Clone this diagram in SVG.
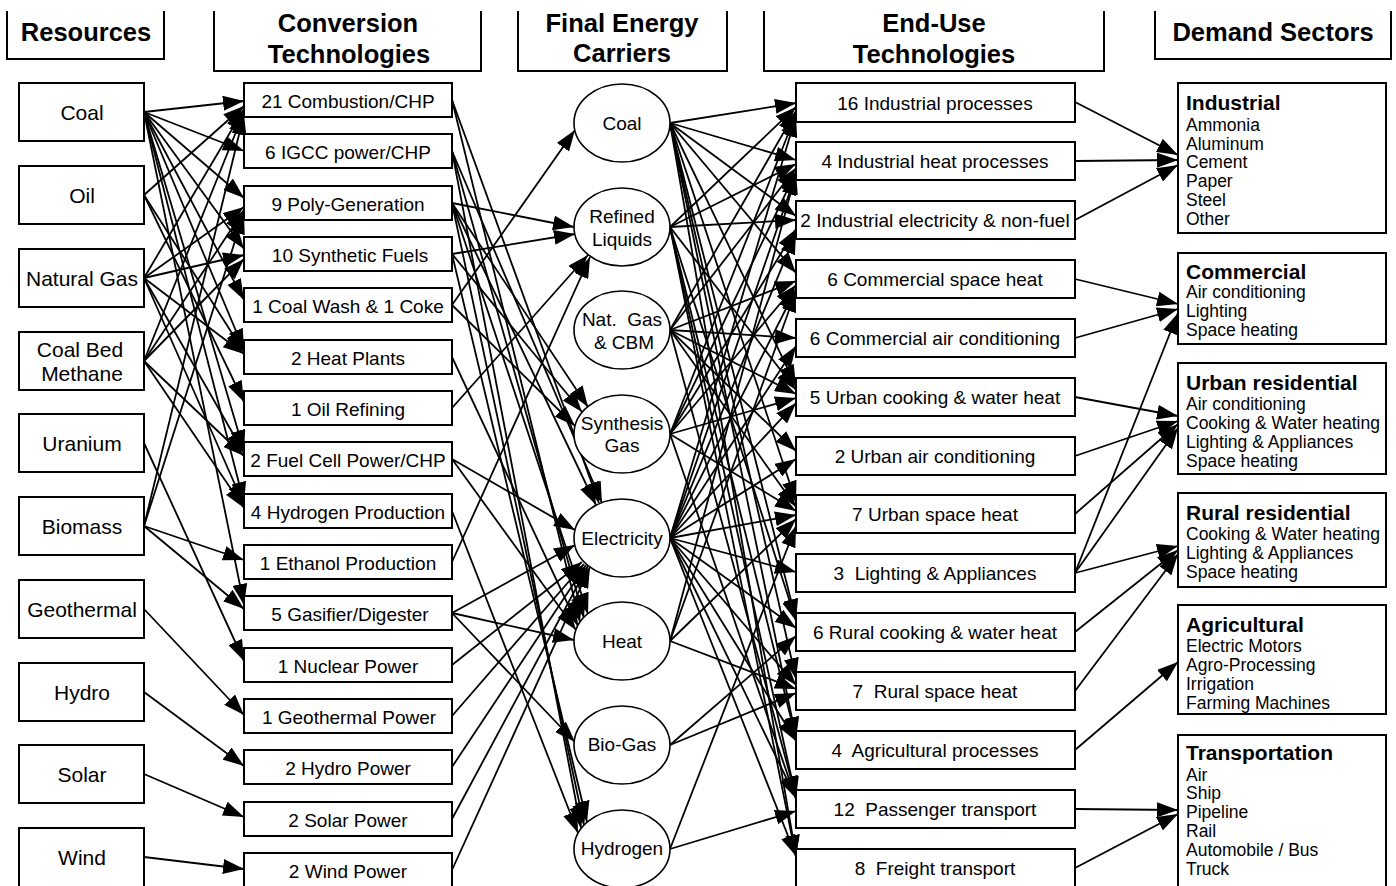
<svg xmlns="http://www.w3.org/2000/svg" width="1396" height="886" viewBox="0 0 1396 886">
<defs>
<marker id="ah" markerUnits="userSpaceOnUse" markerWidth="21" markerHeight="15" refX="21" refY="7.5" orient="auto">
<path d="M0,0 L21,7.5 L0,15 z" fill="#000"/>
</marker>
<style>
text{font-family:"Liberation Sans",Arial,sans-serif;fill:#000;white-space:pre}
.hdr{font-size:25.5px;font-weight:bold;text-anchor:middle}
.hb{fill:none;stroke:#000;stroke-width:2}
.box{fill:#fff;stroke:#000;stroke-width:2}
.ell{fill:#fff;stroke:#000;stroke-width:1.6}
.res{font-size:21px;text-anchor:middle}
.cv{font-size:19px;text-anchor:middle}
.car{font-size:19px;text-anchor:middle}
.eu{font-size:19px;text-anchor:middle}
.dt{font-size:21px;font-weight:bold}
.di{font-size:17.5px}
.c line{stroke:#000;stroke-width:1.8;marker-end:url(#ah)}
</style>
</defs>
<rect width="1396" height="886" fill="#fff"/>

<g id="headers">
<path class="hb" d="M7,11 V59 H164 V11"/>
<text class="hdr" x="86" y="41">Resources</text>
<path class="hb" d="M214,11 V71 H481 V11"/>
<text class="hdr" x="348" y="32">Conversion</text>
<text class="hdr" x="349" y="63">Technologies</text>
<path class="hb" d="M518,11 V71 H727 V11"/>
<text class="hdr" x="622" y="32">Final Energy</text>
<text class="hdr" x="622" y="62">Carriers</text>
<path class="hb" d="M764,11 V71 H1104 V11"/>
<text class="hdr" x="934" y="32">End-Use</text>
<text class="hdr" x="934" y="63">Technologies</text>
<path class="hb" d="M1155,11 V59 H1391 V11"/>
<text class="hdr" x="1273" y="41">Demand Sectors</text>
</g>

<g id="connectors" class="c">
<line x1="144" y1="112" x2="244" y2="101"/>
<line x1="144" y1="112" x2="244" y2="151"/>
<line x1="144" y1="112" x2="244" y2="198"/>
<line x1="144" y1="112" x2="244" y2="249"/>
<line x1="144" y1="112" x2="244" y2="300"/>
<line x1="144" y1="112" x2="244" y2="350"/>
<line x1="144" y1="112" x2="244" y2="451"/>
<line x1="144" y1="112" x2="244" y2="503"/>
<line x1="144" y1="112" x2="244" y2="605"/>
<line x1="144" y1="195" x2="244" y2="106"/>
<line x1="144" y1="195" x2="244" y2="352"/>
<line x1="144" y1="195" x2="244" y2="402"/>
<line x1="144" y1="278" x2="244" y2="109"/>
<line x1="144" y1="278" x2="244" y2="207"/>
<line x1="144" y1="278" x2="244" y2="255"/>
<line x1="144" y1="278" x2="244" y2="354"/>
<line x1="144" y1="278" x2="244" y2="453"/>
<line x1="144" y1="278" x2="244" y2="505"/>
<line x1="144" y1="361" x2="244" y2="112"/>
<line x1="144" y1="361" x2="244" y2="210"/>
<line x1="144" y1="361" x2="244" y2="259"/>
<line x1="144" y1="361" x2="244" y2="456"/>
<line x1="144" y1="361" x2="244" y2="508"/>
<line x1="144" y1="443" x2="244" y2="661"/>
<line x1="144" y1="526" x2="244" y2="114"/>
<line x1="144" y1="526" x2="244" y2="213"/>
<line x1="144" y1="526" x2="244" y2="560"/>
<line x1="144" y1="526" x2="244" y2="609"/>
<line x1="144" y1="609" x2="244" y2="715"/>
<line x1="144" y1="692" x2="244" y2="766"/>
<line x1="144" y1="774" x2="244" y2="817"/>
<line x1="144" y1="857" x2="244" y2="869"/>
<line x1="452" y1="100" x2="599" y2="503"/>
<line x1="452" y1="100" x2="580" y2="622"/>
<line x1="452" y1="151" x2="602" y2="503"/>
<line x1="452" y1="151" x2="584" y2="618"/>
<line x1="452" y1="151" x2="581" y2="828"/>
<line x1="452" y1="203" x2="574" y2="227"/>
<line x1="452" y1="203" x2="588" y2="407"/>
<line x1="452" y1="203" x2="596" y2="505"/>
<line x1="452" y1="203" x2="588" y2="614"/>
<line x1="452" y1="203" x2="584" y2="825"/>
<line x1="452" y1="254" x2="575" y2="234"/>
<line x1="452" y1="254" x2="582" y2="412"/>
<line x1="452" y1="254" x2="587" y2="822"/>
<line x1="452" y1="305" x2="575" y2="130"/>
<line x1="452" y1="305" x2="575" y2="426"/>
<line x1="452" y1="357" x2="578" y2="626"/>
<line x1="452" y1="408" x2="588" y2="255"/>
<line x1="452" y1="459" x2="575" y2="530"/>
<line x1="452" y1="459" x2="576" y2="630"/>
<line x1="452" y1="511" x2="578" y2="833"/>
<line x1="452" y1="562" x2="590" y2="257"/>
<line x1="452" y1="613" x2="575" y2="545"/>
<line x1="452" y1="613" x2="574" y2="640"/>
<line x1="452" y1="613" x2="575" y2="742"/>
<line x1="452" y1="665" x2="582" y2="562"/>
<line x1="452" y1="716" x2="584" y2="564"/>
<line x1="452" y1="767" x2="586" y2="565"/>
<line x1="452" y1="819" x2="588" y2="566"/>
<line x1="452" y1="870" x2="590" y2="567"/>
<line x1="670" y1="123" x2="796" y2="103"/>
<line x1="670" y1="123" x2="796" y2="160"/>
<line x1="670" y1="123" x2="796" y2="216"/>
<line x1="670" y1="123" x2="796" y2="273"/>
<line x1="670" y1="123" x2="796" y2="386"/>
<line x1="670" y1="123" x2="796" y2="502"/>
<line x1="670" y1="123" x2="796" y2="620"/>
<line x1="670" y1="123" x2="796" y2="679"/>
<line x1="670" y1="123" x2="796" y2="738"/>
<line x1="670" y1="123" x2="796" y2="856"/>
<line x1="670" y1="227" x2="796" y2="107"/>
<line x1="670" y1="227" x2="796" y2="164"/>
<line x1="670" y1="227" x2="796" y2="220"/>
<line x1="670" y1="227" x2="796" y2="390"/>
<line x1="670" y1="227" x2="796" y2="621"/>
<line x1="670" y1="227" x2="796" y2="739"/>
<line x1="670" y1="227" x2="796" y2="798"/>
<line x1="670" y1="227" x2="796" y2="857"/>
<line x1="670" y1="330" x2="796" y2="111"/>
<line x1="670" y1="330" x2="796" y2="168"/>
<line x1="670" y1="330" x2="796" y2="281"/>
<line x1="670" y1="330" x2="796" y2="338"/>
<line x1="670" y1="330" x2="796" y2="394"/>
<line x1="670" y1="330" x2="796" y2="451"/>
<line x1="670" y1="330" x2="796" y2="507"/>
<line x1="670" y1="330" x2="796" y2="797"/>
<line x1="670" y1="434" x2="796" y2="114"/>
<line x1="670" y1="434" x2="796" y2="172"/>
<line x1="670" y1="434" x2="796" y2="229"/>
<line x1="670" y1="434" x2="796" y2="285"/>
<line x1="670" y1="434" x2="796" y2="398"/>
<line x1="670" y1="434" x2="796" y2="511"/>
<line x1="670" y1="434" x2="796" y2="799"/>
<line x1="670" y1="538" x2="796" y2="116"/>
<line x1="670" y1="538" x2="796" y2="174"/>
<line x1="670" y1="538" x2="796" y2="233"/>
<line x1="670" y1="538" x2="796" y2="289"/>
<line x1="670" y1="538" x2="796" y2="346"/>
<line x1="670" y1="538" x2="796" y2="403"/>
<line x1="670" y1="538" x2="796" y2="459"/>
<line x1="670" y1="538" x2="796" y2="515"/>
<line x1="670" y1="538" x2="796" y2="572"/>
<line x1="670" y1="538" x2="796" y2="628"/>
<line x1="670" y1="538" x2="796" y2="685"/>
<line x1="670" y1="538" x2="796" y2="741"/>
<line x1="670" y1="538" x2="796" y2="798"/>
<line x1="670" y1="538" x2="796" y2="856"/>
<line x1="670" y1="641" x2="796" y2="173"/>
<line x1="670" y1="641" x2="796" y2="291"/>
<line x1="670" y1="641" x2="796" y2="519"/>
<line x1="670" y1="641" x2="796" y2="689"/>
<line x1="670" y1="745" x2="796" y2="636"/>
<line x1="670" y1="745" x2="796" y2="693"/>
<line x1="670" y1="849" x2="796" y2="526"/>
<line x1="670" y1="849" x2="796" y2="811"/>
<line x1="1075" y1="102" x2="1178" y2="155"/>
<line x1="1075" y1="161" x2="1178" y2="160"/>
<line x1="1075" y1="220" x2="1178" y2="165"/>
<line x1="1075" y1="279" x2="1178" y2="304"/>
<line x1="1075" y1="338" x2="1178" y2="309"/>
<line x1="1075" y1="573" x2="1178" y2="313"/>
<line x1="1075" y1="397" x2="1178" y2="416"/>
<line x1="1075" y1="456" x2="1178" y2="421"/>
<line x1="1075" y1="514" x2="1178" y2="424"/>
<line x1="1075" y1="573" x2="1178" y2="428"/>
<line x1="1075" y1="573" x2="1178" y2="546"/>
<line x1="1075" y1="632" x2="1178" y2="550"/>
<line x1="1075" y1="691" x2="1178" y2="554"/>
<line x1="1075" y1="750" x2="1178" y2="662"/>
<line x1="1075" y1="809" x2="1178" y2="810"/>
<line x1="1075" y1="868" x2="1178" y2="814"/>
</g>

<g id="res-coal"><rect class="box" x="19" y="83" width="125" height="58"/><text class="res" x="82" y="120">Coal</text></g>
<g id="res-oil"><rect class="box" x="19" y="166" width="125" height="58"/><text class="res" x="82" y="203">Oil</text></g>
<g id="res-natgas"><rect class="box" x="19" y="249" width="125" height="58"/><text class="res" x="82" y="286">Natural Gas</text></g>
<g id="res-cbm"><rect class="box" x="19" y="332" width="125" height="58"/><text class="res" x="80" y="357">Coal Bed</text><text class="res" x="82" y="381">Methane</text></g>
<g id="res-uranium"><rect class="box" x="19" y="414" width="125" height="58"/><text class="res" x="82" y="451">Uranium</text></g>
<g id="res-biomass"><rect class="box" x="19" y="497" width="125" height="58"/><text class="res" x="82" y="534">Biomass</text></g>
<g id="res-geothermal"><rect class="box" x="19" y="580" width="125" height="58"/><text class="res" x="82" y="617">Geothermal</text></g>
<g id="res-hydro"><rect class="box" x="19" y="663" width="125" height="58"/><text class="res" x="82" y="700">Hydro</text></g>
<g id="res-solar"><rect class="box" x="19" y="745" width="125" height="58"/><text class="res" x="82" y="782">Solar</text></g>
<g id="res-wind"><rect class="box" x="19" y="828" width="125" height="64"/><text class="res" x="82" y="865">Wind</text></g>

<g id="cv-combustion"><rect class="box" x="244" y="83" width="208" height="34"/><text class="cv" x="348" y="108">21 Combustion/CHP</text></g>
<g id="cv-igcc"><rect class="box" x="244" y="134" width="208" height="34"/><text class="cv" x="348" y="159">6 IGCC power/CHP</text></g>
<g id="cv-polygen"><rect class="box" x="244" y="186" width="208" height="34"/><text class="cv" x="348" y="211">9 Poly-Generation</text></g>
<g id="cv-synfuels"><rect class="box" x="244" y="237" width="208" height="34"/><text class="cv" x="350" y="262">10 Synthetic Fuels</text></g>
<g id="cv-coalwash"><rect class="box" x="244" y="288" width="208" height="34"/><text class="cv" x="348" y="313">1 Coal Wash &amp; 1 Coke</text></g>
<g id="cv-heatplants"><rect class="box" x="244" y="340" width="208" height="34"/><text class="cv" x="348" y="365">2 Heat Plants</text></g>
<g id="cv-oilref"><rect class="box" x="244" y="391" width="208" height="34"/><text class="cv" x="348" y="416">1 Oil Refining</text></g>
<g id="cv-fuelcell"><rect class="box" x="244" y="442" width="208" height="34"/><text class="cv" x="348" y="467">2 Fuel Cell Power/CHP</text></g>
<g id="cv-h2prod"><rect class="box" x="244" y="494" width="208" height="34"/><text class="cv" x="348" y="519">4 Hydrogen Production</text></g>
<g id="cv-ethanol"><rect class="box" x="244" y="545" width="208" height="34"/><text class="cv" x="348" y="570">1 Ethanol Production</text></g>
<g id="cv-gasifier"><rect class="box" x="244" y="596" width="208" height="34"/><text class="cv" x="350" y="621">5 Gasifier/Digester</text></g>
<g id="cv-nuclear"><rect class="box" x="244" y="648" width="208" height="34"/><text class="cv" x="348" y="673">1 Nuclear Power</text></g>
<g id="cv-geothermal"><rect class="box" x="244" y="699" width="208" height="34"/><text class="cv" x="349" y="724">1 Geothermal Power</text></g>
<g id="cv-hydro"><rect class="box" x="244" y="750" width="208" height="34"/><text class="cv" x="348" y="775">2 Hydro Power</text></g>
<g id="cv-solar"><rect class="box" x="244" y="802" width="208" height="34"/><text class="cv" x="348" y="827">2 Solar Power</text></g>
<g id="cv-wind"><rect class="box" x="244" y="853" width="208" height="40"/><text class="cv" x="348" y="878">2 Wind Power</text></g>

<g id="car-coal"><ellipse class="ell" cx="622" cy="123" rx="48" ry="39"/><text class="car" x="622" y="130">Coal</text></g>
<g id="car-refined"><ellipse class="ell" cx="622" cy="227" rx="48" ry="39"/><text class="car" x="622" y="223">Refined</text><text class="car" x="622" y="246">Liquids</text></g>
<g id="car-natgas"><ellipse class="ell" cx="622" cy="330" rx="48" ry="39"/><text class="car" x="622" y="326">Nat.  Gas</text><text class="car" x="624" y="349">&amp; CBM</text></g>
<g id="car-syngas"><ellipse class="ell" cx="622" cy="434" rx="48" ry="39"/><text class="car" x="622" y="430">Synthesis</text><text class="car" x="622" y="452">Gas</text></g>
<g id="car-electricity"><ellipse class="ell" cx="622" cy="538" rx="48" ry="39"/><text class="car" x="622" y="545">Electricity</text></g>
<g id="car-heat"><ellipse class="ell" cx="622" cy="641" rx="48" ry="39"/><text class="car" x="622" y="648">Heat</text></g>
<g id="car-biogas"><ellipse class="ell" cx="622" cy="745" rx="48" ry="39"/><text class="car" x="622" y="751">Bio-Gas</text></g>
<g id="car-hydrogen"><ellipse class="ell" cx="622" cy="849" rx="48" ry="39"/><text class="car" x="622" y="855">Hydrogen</text></g>

<g id="eu-indproc"><rect class="box" x="796" y="83" width="279" height="39"/><text class="eu" x="935" y="110">16 Industrial processes</text></g>
<g id="eu-indheat"><rect class="box" x="796" y="142" width="279" height="38"/><text class="eu" x="935" y="168">4 Industrial heat processes</text></g>
<g id="eu-indelec"><rect class="box" x="796" y="201" width="279" height="38"/><text class="eu" x="935" y="227">2 Industrial electricity &amp; non-fuel</text></g>
<g id="eu-commheat"><rect class="box" x="796" y="260" width="279" height="38"/><text class="eu" x="935" y="286">6 Commercial space heat</text></g>
<g id="eu-commac"><rect class="box" x="796" y="319" width="279" height="38"/><text class="eu" x="935" y="345">6 Commercial air conditioning</text></g>
<g id="eu-urbancook"><rect class="box" x="796" y="378" width="279" height="38"/><text class="eu" x="935" y="404">5 Urban cooking &amp; water heat</text></g>
<g id="eu-urbanac"><rect class="box" x="796" y="437" width="279" height="38"/><text class="eu" x="935" y="463">2 Urban air conditioning</text></g>
<g id="eu-urbanheat"><rect class="box" x="796" y="495" width="279" height="38"/><text class="eu" x="935" y="521">7 Urban space heat</text></g>
<g id="eu-lighting"><rect class="box" x="796" y="554" width="279" height="38"/><text class="eu" x="935" y="580">3  Lighting &amp; Appliances</text></g>
<g id="eu-ruralcook"><rect class="box" x="796" y="613" width="279" height="38"/><text class="eu" x="935" y="639">6 Rural cooking &amp; water heat</text></g>
<g id="eu-ruralheat"><rect class="box" x="796" y="672" width="279" height="38"/><text class="eu" x="935" y="698">7  Rural space heat</text></g>
<g id="eu-agri"><rect class="box" x="796" y="731" width="279" height="38"/><text class="eu" x="935" y="757">4  Agricultural processes</text></g>
<g id="eu-passenger"><rect class="box" x="796" y="790" width="279" height="38"/><text class="eu" x="935" y="816">12  Passenger transport</text></g>
<g id="eu-freight"><rect class="box" x="796" y="849" width="279" height="45"/><text class="eu" x="935" y="875">8  Freight transport</text></g>

<g id="ds-industrial"><rect class="box" x="1178" y="83" width="208" height="150"/>
<text class="dt" x="1186" y="110">Industrial</text>
<text class="di" x="1186" y="131">Ammonia</text><text class="di" x="1186" y="149.7">Aluminum</text><text class="di" x="1186" y="168.4">Cement</text><text class="di" x="1186" y="187">Paper</text><text class="di" x="1186" y="205.8">Steel</text><text class="di" x="1186" y="224.5">Other</text></g>
<g id="ds-commercial"><rect class="box" x="1178" y="253" width="208" height="91"/>
<text class="dt" x="1186" y="279">Commercial</text>
<text class="di" x="1186" y="298">Air conditioning</text><text class="di" x="1186" y="317">Lighting</text><text class="di" x="1186" y="336">Space heating</text></g>
<g id="ds-urban"><rect class="box" x="1178" y="363" width="208" height="111"/>
<text class="dt" x="1186" y="390">Urban residential</text>
<text class="di" x="1186" y="410">Air conditioning</text><text class="di" x="1186" y="429">Cooking &amp; Water heating</text><text class="di" x="1186" y="448">Lighting &amp; Appliances</text><text class="di" x="1186" y="467">Space heating</text></g>
<g id="ds-rural"><rect class="box" x="1178" y="493" width="208" height="94"/>
<text class="dt" x="1186" y="520">Rural residential</text>
<text class="di" x="1186" y="540">Cooking &amp; Water heating</text><text class="di" x="1186" y="559">Lighting &amp; Appliances</text><text class="di" x="1186" y="578">Space heating</text></g>
<g id="ds-agricultural"><rect class="box" x="1178" y="605" width="208" height="109"/>
<text class="dt" x="1186" y="632">Agricultural</text>
<text class="di" x="1186" y="652">Electric Motors</text><text class="di" x="1186" y="671">Agro-Processing</text><text class="di" x="1186" y="690">Irrigation</text><text class="di" x="1186" y="709">Farming Machines</text></g>
<g id="ds-transportation"><rect class="box" x="1178" y="735" width="208" height="170"/>
<text class="dt" x="1186" y="760">Transportation</text>
<text class="di" x="1186" y="781">Air</text><text class="di" x="1186" y="799">Ship</text><text class="di" x="1186" y="818">Pipeline</text><text class="di" x="1186" y="837">Rail</text><text class="di" x="1186" y="856">Automobile / Bus</text><text class="di" x="1186" y="875">Truck</text></g>
</svg>
